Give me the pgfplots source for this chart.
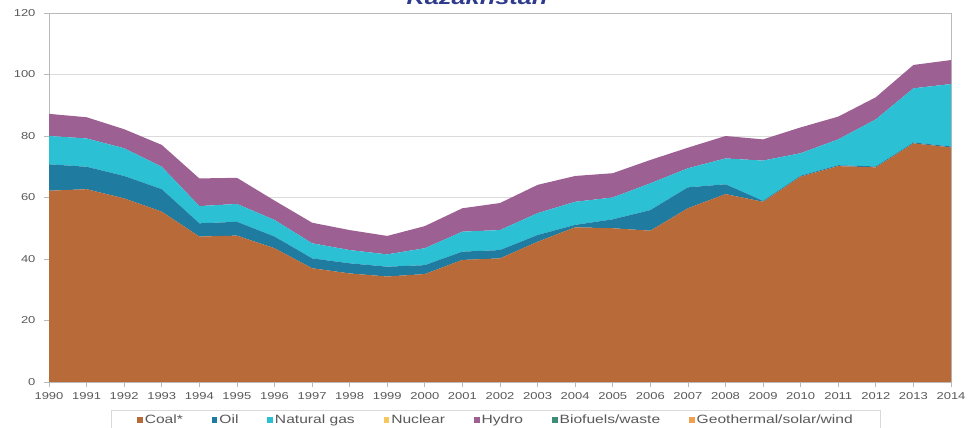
\documentclass[border=0pt]{standalone}
\usepackage{pgfplots}
\pgfplotsset{compat=1.18}
\usepackage{pgfplotstable}
\usepackage{fontspec}
\setmainfont{Liberation Sans}[FakeStretch=1.3]
\definecolor{coalc}{HTML}{B86B39}
\definecolor{oilc}{HTML}{1F7BA0}
\definecolor{gasc}{HTML}{2CC0D5}
\definecolor{nucc}{HTML}{F6C75E}
\definecolor{hydroc}{HTML}{9C6192}
\definecolor{bioc}{HTML}{3F8C79}
\definecolor{geoc}{HTML}{F0A04E}
\definecolor{txtc}{HTML}{595959}
\definecolor{titlec}{HTML}{2E3A8C}
\pgfplotstableread{
year coal oil gas hydro
1990 62.2 8.6 9.2 7.2
1991 62.7 7.3 9.2 6.9
1992 59.7 7.3 9.0 6.2
1993 55.4 7.3 7.3 7.1
1994 47.3 4.3 5.6 9.0
1995 47.6 4.5 5.8 8.5
1996 43.5 3.8 5.4 6.3
1997 37.0 3.2 4.9 6.7
1998 35.3 3.3 4.3 6.5
1999 34.3 3.2 4.0 6.0
2000 35.1 2.9 5.5 7.2
2001 39.7 2.7 6.5 7.6
2002 40.2 2.7 6.5 8.8
2003 45.6 2.2 7.1 9.2
2004 50.3 0.8 7.5 8.4
2005 50.0 2.9 7.1 7.9
2006 49.2 6.7 8.7 7.6
2007 56.5 6.8 6.2 6.7
2008 61.1 3.2 8.4 7.3
2009 58.6 0.3 13.1 6.9
2010 66.8 0.3 7.3 8.4
2011 70.2 0.3 8.4 7.4
2012 69.8 0.3 15.3 7.2
2013 77.6 0.3 17.6 7.6
2014 76.3 0.3 20.3 7.8
}\datatable
\begin{document}
\begin{tikzpicture}
\useasboundingbox (0,0) rectangle (977pt,428pt);
\begin{axis}[
  at={(49pt,46pt)}, anchor=south west,
  scale only axis, width=902pt, height=369pt,
  xmin=1990, xmax=2014, ymin=0, ymax=120,
  xtick={1990,1991,...,2014}, ytick={0,20,...,120},
  /pgf/number format/1000 sep={},
  /pgf/number format/assume math mode=true,
  ymajorgrids, grid style={draw=gray!28, line width=0.8pt},
  axis line style={draw=gray!55, line width=0.8pt},
  tick style={draw=gray!55, line width=0.8pt},
  tick align=outside, major tick length=5pt,
  xtick pos=bottom, ytick pos=left,
  ticklabel style={font=\fontsize{10}{12}\selectfont, text=txtc},
  yticklabel style={xshift=-5pt},
  xticklabel style={yshift=-2pt},
  stack plots=y,
  legend columns=7,
  legend style={at={(axis description cs:0.4956,-0.0759)}, anchor=north,
    draw=gray!30, line width=0.8pt, inner xsep=26pt, inner ysep=2.5pt,
    font=\fontsize{12}{14}\selectfont, text=txtc,
    /tikz/every even column/.append style={column sep=27pt}},
  legend image code/.code={\fill[#1] (0pt,-2.8pt) rectangle (5.5pt,2.8pt);},
]
\addplot[fill=coalc, draw=none] table[x=year,y=coal]{\datatable} \closedcycle;
\addlegendentry{Coal*}
\addplot[fill=oilc, draw=none] table[x=year,y=oil]{\datatable} \closedcycle;
\addlegendentry{Oil}
\addplot[fill=gasc, draw=none] table[x=year,y=gas]{\datatable} \closedcycle;
\addlegendentry{Natural gas}
\addlegendimage{fill=nucc, draw=none}
\addlegendentry{Nuclear}
\addplot[fill=hydroc, draw=none] table[x=year,y=hydro]{\datatable} \closedcycle;
\addlegendentry{Hydro}
\addlegendimage{fill=bioc, draw=none}
\addlegendentry{Biofuels/waste}
\addlegendimage{fill=geoc, draw=none}
\addlegendentry{Geothermal/solar/wind}
\end{axis}
\node[anchor=base, text=titlec, font=\fontsize{19.5}{23}\selectfont\bfseries\itshape] at (477pt,423.3pt) {Kazakhstan};
\end{tikzpicture}
\end{document}
